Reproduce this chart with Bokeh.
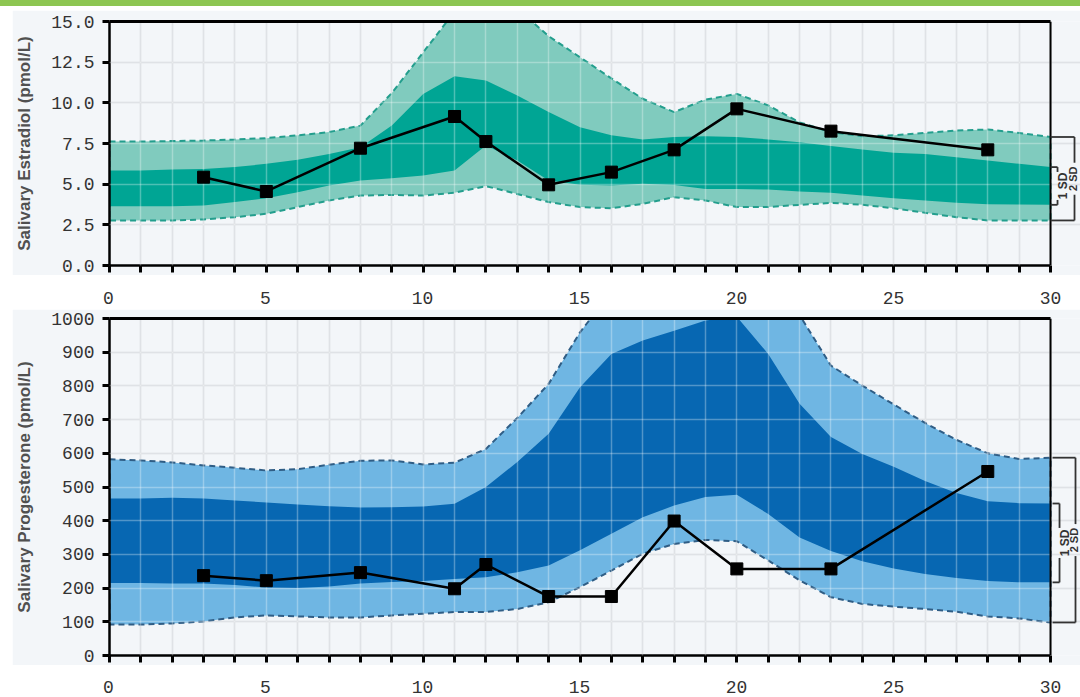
from bokeh.plotting import figure
from bokeh.layouts import column, row
from bokeh.models import Range1d, FixedTicker, PrintfTickFormatter, Grid, Span, Div, Spacer
from bokeh.core.properties import value
from bokeh.embed import file_html
from bokeh.resources import INLINE

# ---------------- data ----------------
days = list(range(31))

e2_out_hi = [7.62, 7.62, 7.65, 7.68, 7.75, 7.83, 8.0, 8.2, 8.6, 10.6, 13.1, 15.6, 16.4, 15.8, 14.1,
             12.8, 11.5, 10.25, 9.43, 10.2, 10.55, 9.84, 8.8, 8.2, 7.95, 8.0, 8.15, 8.3, 8.36, 8.15, 7.9]
e2_in_hi = [5.84, 5.84, 5.9, 5.94, 6.05, 6.25, 6.5, 6.86, 7.27, 8.6, 10.55, 11.64, 11.37, 10.45, 9.43,
            8.5, 8.0, 7.75, 7.9, 7.95, 7.9, 7.75, 7.58, 7.34, 7.13, 6.93, 6.86, 6.66, 6.45, 6.25, 6.05]
e2_in_lo = [3.65, 3.65, 3.65, 3.69, 3.9, 4.14, 4.5, 4.92, 5.23, 5.37, 5.53, 5.84, 7.38, 6.45, 5.23,
            4.97, 4.92, 5.02, 4.95, 4.71, 4.71, 4.67, 4.55, 4.47, 4.3, 4.14, 4.0, 3.85, 3.77, 3.75, 3.73]
e2_out_lo = [2.77, 2.77, 2.77, 2.83, 2.97, 3.18, 3.59, 4.0, 4.3, 4.34, 4.3, 4.47, 4.88, 4.4, 3.9,
             3.59, 3.52, 3.79, 4.2, 4.0, 3.59, 3.59, 3.73, 3.85, 3.73, 3.52, 3.24, 2.97, 2.77, 2.77, 2.77]

p4_out_hi = [582, 579, 573, 564, 557, 549, 553, 566, 578, 579, 567, 572, 613, 705, 806,
             959, 1080, 1130, 1160, 1170, 1150, 1100, 1010, 860, 801, 745, 690, 640, 600, 583, 587]
p4_in_hi = [466, 466, 468, 466, 460, 454, 448, 443, 439, 440, 442, 450, 500, 574, 658,
            796, 895, 935, 964, 994, 1005, 895, 747, 648, 598, 560, 518, 482, 458, 452, 451]
p4_in_lo = [215, 215, 214, 214, 209, 202, 200, 205, 214, 218, 221, 227, 232, 247, 267,
            312, 361, 410, 445, 470, 477, 420, 350, 310, 280, 258, 242, 230, 221, 217, 217]
p4_out_lo = [92, 92, 95, 101, 113, 119, 116, 113, 113, 119, 124, 129, 129, 138, 158,
             203, 252, 302, 331, 343, 339, 282, 223, 173, 153, 145, 138, 130, 116, 110, 98]

sample_days = [3, 5, 8, 11, 12, 14, 16, 18, 20, 23, 28]
e2_values = [5.43, 4.55, 7.21, 9.16, 7.62, 4.96, 5.74, 7.11, 9.63, 8.26, 7.11]
p4_values = [237, 222, 246, 198, 270, 175, 175, 399, 257, 257, 546]

x_label_pos = [0, 5, 10, 15, 20, 25, 30]
x_labels = ["0", "5", "10", "15", "20", "25", "30"]
e2_yticks = [0, 2.5, 5, 7.5, 10, 12.5, 15]
p4_yticks = [0, 100, 200, 300, 400, 500, 600, 700, 800, 900, 1000]

e2_title = "Salivary Estradiol (pmol/L)"
p4_title = "Salivary Progesterone (pmol/L)"

# ---------------- layout constants ----------------
W = 1080
FRAME_LEFT = 108
X30_PAGE = 1050
PX = (X30_PAGE - FRAME_LEFT) / 30.0
X_END = 30 + (W - X30_PAGE) / PX
LEFT_PAD = 12
BG = "#f3f6f9"
GRID = "#d2d6db"
TICK_FONT = "Liberation Mono"


def panel(height, top_b, bot_b, ymax, yticks, fmt, label, hi2, hi1, lo1, lo2,
          c_out, c_in, c_dash, vals, brackets):
    p = figure(width=W - LEFT_PAD, height=height, x_range=Range1d(0, X_END),
               y_range=Range1d(0, ymax), output_backend="svg", toolbar_location=None,
               min_border_left=FRAME_LEFT - LEFT_PAD, min_border_right=0,
               min_border_top=top_b, min_border_bottom=bot_b,
               background_fill_color=BG, border_fill_color=BG, outline_line_color=None)
    frame_h = height - top_b - bot_b
    ypx = frame_h / ymax

    # grids
    p.xgrid.ticker = FixedTicker(ticks=days)
    p.xgrid.bounds = (0, 30)
    p.ygrid.ticker = FixedTicker(ticks=yticks)
    for g in (p.xgrid, p.ygrid):
        g.grid_line_color = GRID
        g.grid_line_width = 1.5
    p.add_layout(Grid(dimension=0, ticker=FixedTicker(ticks=days), bounds=(0, 30),
                      grid_line_color="white", grid_line_alpha=0.3, grid_line_width=1.5,
                      level="guide"))
    p.add_layout(Grid(dimension=1, ticker=FixedTicker(ticks=yticks),
                      grid_line_color="white", grid_line_alpha=0.3, grid_line_width=1.5,
                      level="guide"))

    # axes: x axis carries only tick marks (day ticks drawn as minor ticks, no labels)
    p.xaxis.ticker = FixedTicker(ticks=[], minor_ticks=days)
    p.xaxis.bounds = (0, 30)
    p.xaxis.minor_tick_line_width = 3
    p.xaxis.minor_tick_line_color = "black"
    p.xaxis.minor_tick_in = 0
    p.xaxis.minor_tick_out = 7
    p.yaxis.ticker = FixedTicker(ticks=yticks)
    p.yaxis.minor_tick_line_color = None
    p.yaxis.bounds = (0, ymax)
    p.yaxis.formatter = PrintfTickFormatter(format=fmt)
    p.yaxis.major_label_text_font = TICK_FONT
    p.yaxis.major_label_text_font_size = "18px"
    p.yaxis.major_label_text_color = "#333333"
    p.yaxis.major_label_standoff = 8
    p.yaxis.axis_label = label
    p.yaxis.axis_label_text_font = "Liberation Sans"
    p.yaxis.axis_label_text_font_style = "bold"
    p.yaxis.axis_label_text_font_size = "17px"
    p.yaxis.axis_label_text_color = "#505050"
    p.yaxis.axis_label_standoff = 14
    for ax in (p.xaxis, p.yaxis):
        ax.axis_line_width = 2.5
        ax.axis_line_color = "black"
        ax.major_tick_line_width = 3
        ax.major_tick_line_color = "black"
        ax.major_tick_in = 0
        ax.major_tick_out = 7

    # bands
    p.patch(x=days + days[::-1], y=hi2 + lo2[::-1], fill_color=c_out, fill_alpha=1.0,
            line_color=c_dash, line_dash="6 4", line_width=2)
    p.varea(x=days, y1=lo1, y2=hi1, fill_color=c_in, fill_alpha=1.0)

    # frame top + right border
    p.segment(x0=[days[0]], y0=[ymax], x1=[days[-1]], y1=[ymax], line_color="black",
              line_width=3, level="overlay")
    p.add_layout(Span(location=days[-1], dimension="height", line_color="black", line_width=2))

    # sample line
    p.line(sample_days, vals, line_color="black", line_width=2.5, level="overlay")
    p.scatter(sample_days, vals, marker="square", size=12, fill_color="black",
              line_color="black", level="overlay")

    # SD brackets on the right
    for (ya, yb, x_start_px, x_line_px, txt, gap_px, txt_dx, fs) in brackets:
        xs = 30 + x_start_px / PX
        xl = 30 + x_line_px / PX
        mid = (ya + yb) / 2.0
        g = gap_px / ypx
        p.multi_line(xs=[[xs, xl], [xs, xl], [xl, xl], [xl, xl]],
                     ys=[[ya, ya], [yb, yb], [ya, mid + g], [mid - g, yb]],
                     line_color="#333333", line_width=1.8, level="overlay")
        p.text(x=[xl + txt_dx / PX], y=[mid], text=[txt], angle=1.5708,
               text_font=value("Liberation Sans"), text_font_style="bold",
               text_font_size=fs, text_color="#333333", text_align="center",
               text_baseline="middle", level="overlay")
    return p


TOP_H, BOT_H = 265, 356

top = panel(TOP_H, 11, 10, 15, e2_yticks, "%.1f", e2_title,
            e2_out_hi, e2_in_hi, e2_in_lo, e2_out_lo,
            "#80cbbe", "#00a594", "#239e8d", e2_values,
            [(e2_out_hi[-1], e2_out_lo[-1], 0, 24, "2 SD", 16, -2, "11px"),
             (e2_in_hi[-1], e2_in_lo[-1], 0, 7, "1 SD", 14, 5, "12px")])

bot = panel(BOT_H, 9, 10, 1000, p4_yticks, "%d", p4_title,
            p4_out_hi, p4_in_hi, p4_in_lo, p4_out_lo,
            "#6fb6e3", "#0767b2", "#2f5d85", p4_values,
            [(p4_out_hi[-1], p4_out_lo[-1], 2, 25, "2 SD", 16, -2, "11px"),
             (p4_in_hi[-1], p4_in_lo[-1], 2, 9, "1 SD", 15, 5, "12px")])


def label_fig(h, offset):
    f = figure(width=W, height=h, x_range=Range1d(-FRAME_LEFT / PX, X_END),
               y_range=Range1d(0, h), output_backend="svg", toolbar_location=None,
               min_border_left=0, min_border_right=0, min_border_top=0, min_border_bottom=0,
               x_axis_type=None, y_axis_type=None, outline_line_color=None,
               background_fill_color="white", border_fill_color="white")
    f.grid.visible = False
    f.text(x=x_label_pos, y=[h - offset] * len(x_label_pos), text=x_labels,
           text_font=value(TICK_FONT), text_font_size="18px", text_color="#333333",
           text_align="center", text_baseline="middle")
    return f


top_lab = label_fig(34, 22)
bot_lab = label_fig(32, 21)

green = Div(text="", width=W, height=6, margin=0,
            styles={"background-color": "#8dc652"})

layout = column(green, Spacer(width=W, height=4, margin=0),
                row(Spacer(width=LEFT_PAD, height=TOP_H, margin=0), top),
                top_lab,
                row(Spacer(width=LEFT_PAD, height=BOT_H, margin=0), bot),
                bot_lab)

open("out.html", "w").write(file_html(layout, INLINE))
